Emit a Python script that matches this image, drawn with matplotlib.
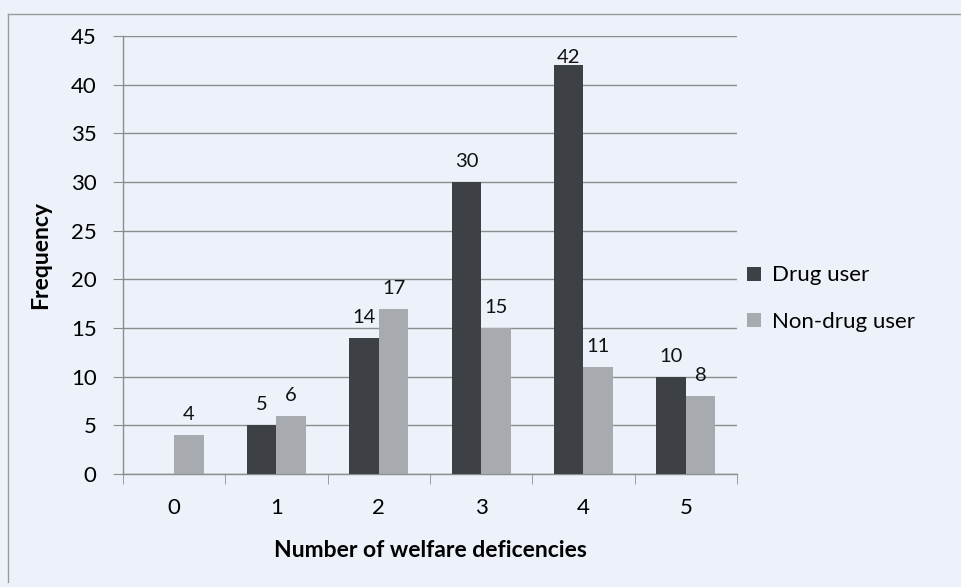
import matplotlib
matplotlib.use("Agg")
import matplotlib.pyplot as plt
import numpy as np
from matplotlib.lines import Line2D

categories = ["0", "1", "2", "3", "4", "5"]
drug_user = [0, 5, 14, 30, 42, 10]
non_drug_user = [4, 6, 17, 15, 11, 8]
series_names = ["Drug user", "Non-drug user"]
y_ticks = [0, 5, 10, 15, 20, 25, 30, 35, 40, 45]

plt.rcParams['font.family'] = ['Lato', 'DejaVu Sans']
BG = "#edf2fa"
C_DRUG = "#3d4045"
C_NON = "#a7aaae"
GRID = "#8c8c8c"

fig = plt.figure(figsize=(9.62, 5.87), dpi=100, facecolor=BG)
ax = fig.add_axes([123/962, 1-474/587, 614/962, 438/587])
ax.set_facecolor(BG)

x = np.arange(len(categories))
w = 0.288
b1 = ax.bar(x - w/2, drug_user, w, color=C_DRUG, label=series_names[0], zorder=3)
b2 = ax.bar(x + w/2, non_drug_user, w, color=C_NON, label=series_names[1], zorder=3)

ymax = 45
ax_h_pts = 438 / 100 * 72  # axes height in points
for bars, vals in ((b1, drug_user), (b2, non_drug_user)):
    for r, v in zip(bars, vals):
        if v == 0:
            continue
        gap_pts = (ymax - v) * ax_h_pts / ymax
        off = min(10.8, gap_pts - 19.6)  # keep label inside plot area like Excel
        ax.annotate(str(v), (r.get_x() + r.get_width()/2, v), xytext=(0, off),
                    textcoords="offset points", ha="center", va="baseline",
                    fontsize=14.5, color="#111111")

ax.set_xlim(-0.5, len(categories) - 0.5)
ax.set_ylim(0, ymax)
ax.set_yticks(y_ticks)
ax.yaxis.grid(True, color=GRID, linewidth=1.0, zorder=0)
ax.set_axisbelow(True)

ax.set_xticks(x)
ax.set_xticklabels(categories)
ax.set_xticks(np.arange(-0.5, len(categories)), minor=True)
ax.tick_params(axis="x", which="major", length=0, pad=17, labelsize=16)
ax.tick_params(axis="x", which="minor", length=7, color=GRID, direction="out")
ax.tick_params(axis="y", which="major", length=7, color=GRID, pad=12, labelsize=16)

for s in ("top", "right"):
    ax.spines[s].set_visible(False)
for s in ("left", "bottom"):
    ax.spines[s].set_color(GRID)
    ax.spines[s].set_linewidth(1.0)

ax.set_xlabel("Number of welfare deficencies", fontsize=16.5, fontweight="bold", labelpad=16)
ax.set_ylabel("Frequency", fontsize=16.5, fontweight="bold", labelpad=14)

ax.legend(loc="center left", bbox_to_anchor=(0.984, 0.40), frameon=False,
          fontsize=16, handlelength=0.6, handleheight=0.6, handletextpad=0.5,
          labelspacing=1.2)

# outer chart frame
fig.add_artist(Line2D([8/962, 8/962], [1-582/587, 1-14/587], transform=fig.transFigure,
                      color="#9a9a9a", linewidth=1.0))
fig.add_artist(Line2D([8/962, 1.0], [1-14/587, 1-14/587], transform=fig.transFigure,
                      color="#9a9a9a", linewidth=1.0))

fig.savefig("out.png", dpi=100, facecolor=BG)
